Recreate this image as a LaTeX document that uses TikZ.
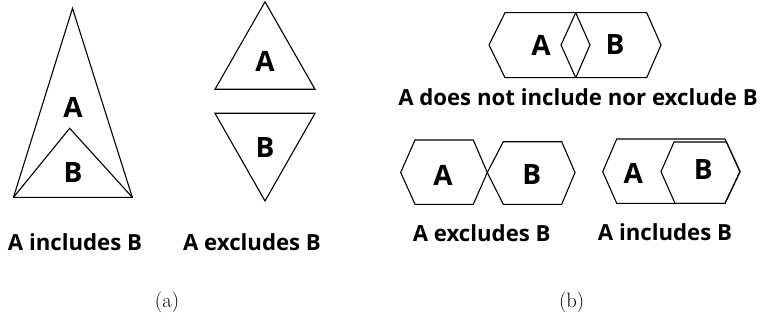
\documentclass[tikz,border=0pt]{standalone}
\usepackage{fontspec}
\newfontfamily\lblfont{Open Sans}
\usepackage{tikz}

\begin{document}
\begin{tikzpicture}[
  x=1pt, y=-1pt,
  shp/.style={draw, line width=1.1pt, line join=miter},
  letter/.style={font=\lblfont\bfseries\fontsize{28}{30}\selectfont, inner sep=0pt},
  caption/.style={font=\lblfont\bfseries\fontsize{22.2}{26}\selectfont, inner sep=0pt},
  sublabel/.style={font=\fontsize{20.7}{25}\selectfont, inner sep=0pt},
]
\useasboundingbox (0,0) rectangle (762,326);

% (a) triangles
\draw[shp] (72.5,8.3) -- (13.5,197.3) -- (132.3,197.3) -- cycle;
\draw[shp] (13.5,197.3) -- (69.7,128.3) -- (132.3,197.3);
\node[letter] (ta) at (73,107) {A};
\node[letter] (tb) at (73,173) {B};

\draw[shp] (265,1.8) -- (215,89.3) -- (315,89.3) -- cycle;
\draw[shp] (215,113.3) -- (315,113.3) -- (265,201) -- cycle;
\node[letter] (ea) at (265,61) {A};
\node[letter] (eb) at (265,148) {B};

\node[caption] (incA) at (75,242) {A includes B};
\node[caption] (excA) at (252,242) {A excludes B};
\node[sublabel] (suba) at (167,302) {(a)};

% (b) hexagons
\draw[shp] (489,45) -- (505,12.7) -- (575.7,12.7) -- (590,45) -- (575.7,77.7) -- (505,77.7) -- cycle;
\draw[shp] (561,45) -- (575.7,12.7) -- (646.7,12.7) -- (661,45) -- (646.7,77.7) -- (575.7,77.7) -- cycle;
\node[letter] (na) at (541,45) {A};
\node[letter] (nb) at (615,45) {B};
\node[caption] (neither) at (578,97) {A does not include nor exclude B};

\draw[shp] (400.7,172.5) -- (415,140) -- (473.3,140) -- (487.3,172.5) -- (473.3,204.3) -- (415,204.3) -- cycle;
\draw[shp] (487.3,172.5) -- (503.3,141.7) -- (561.7,141.7) -- (575,172.5) -- (561.7,204.3) -- (503.3,204.3) -- cycle;
\node[letter] (xa) at (443,175) {A};
\node[letter] (xb) at (531.7,175) {B};
\node[caption] (excB) at (481.7,233) {A excludes B};

\draw[shp] (602.7,171.7) -- (616.7,139) -- (725,139) -- (740,171.7) -- (725,203.3) -- (616.7,203.3) -- cycle;
\draw[shp] (661,171.7) -- (674,142) -- (726.5,142) -- (740,171.7) -- (725,203.3) -- (675,203.3) -- cycle;
\node[letter] (ia) at (633.3,173) {A};
\node[letter] (ib) at (703.3,170) {B};
\node[caption] (incB) at (665,231.7) {A includes B};
\node[sublabel] (subb) at (571.7,302) {(b)};
\end{tikzpicture}
\end{document}
